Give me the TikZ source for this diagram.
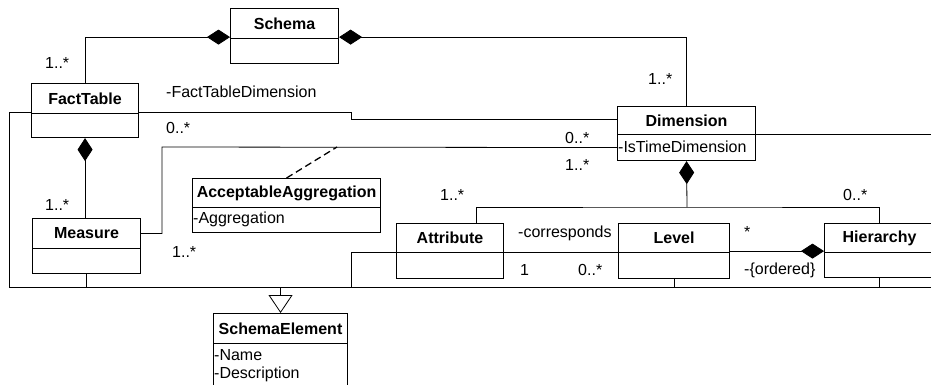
\documentclass[tikz,border=0pt]{standalone}
\usepackage{fontspec}
\setmainfont{Liberation Sans}
\usetikzlibrary{arrows.meta,calc}
\begin{document}
\begin{tikzpicture}[x=1pt,y=-1pt,
  every node/.style={font=\fontsize{16}{19}\selectfont},
  hdr/.style={draw, line width=1.1pt, inner sep=0pt, anchor=north west, font=\fontsize{16}{19}\selectfont\bfseries},
  bdy/.style={draw, line width=1.1pt, inner sep=0pt, anchor=north west},
  lbl/.style={inner sep=0pt, anchor=base west},
  conn/.style={line width=0.8pt, black},
  comp/.style={conn, -{Diamond[length=23pt,width=15pt]}},
  compstart/.style={conn, {Diamond[length=23pt,width=15pt]}-},
  gen/.style={conn, -{Triangle[open, fill=white, length=18pt, width=24pt]}}
]
\clip (0,0) rectangle (931,384);
\fill[white] (0,0) rectangle (931,384);

% ---- classes ----
\node[hdr, minimum width=108pt, minimum height=30pt] (schemaH) at (230,8) {Schema};
\node[bdy, minimum width=108pt, minimum height=25pt] (schemaB) at (230,38) {};

\node[hdr, minimum width=107pt, minimum height=30pt] (factH) at (31,83) {FactTable};
\node[bdy, minimum width=107pt, minimum height=24pt] (factB) at (31,113) {};

\node[hdr, minimum width=138pt, minimum height=28pt] (dimH) at (617,106) {Dimension};
\node[bdy, minimum width=138pt, minimum height=26pt] (dimB) at (617,134) {};
\node[lbl] (dimA) at ([xshift=1pt,yshift=-18pt]dimB.north west) {-IsTimeDimension};

\node[hdr, minimum width=108pt, minimum height=30pt] (measH) at (32,218) {Measure};
\node[bdy, minimum width=108pt, minimum height=25pt] (measB) at (32,248) {};

\node[hdr, minimum width=188pt, minimum height=29pt] (aggH) at (192,178) {AcceptableAggregation};
\node[bdy, minimum width=188pt, minimum height=25pt] (aggB) at (192,207) {};
\node[lbl] (aggA) at ([xshift=1pt,yshift=-16pt]aggB.north west) {-Aggregation};

\node[hdr, minimum width=107pt, minimum height=29pt] (attrH) at (396,223) {Attribute};
\node[bdy, minimum width=107pt, minimum height=26pt] (attrB) at (396,252) {};

\node[hdr, minimum width=111pt, minimum height=29pt] (levelH) at (618,223) {Level};
\node[bdy, minimum width=111pt, minimum height=26pt] (levelB) at (618,252) {};

\node[hdr, minimum width=110pt, minimum height=29pt] (hierH) at (824,223) {Hierarchy};
\node[bdy, minimum width=110pt, minimum height=25pt] (hierB) at (824,252) {};

\node[hdr, minimum width=134pt, minimum height=30pt] (seH) at (213,313) {SchemaElement};
\node[bdy, minimum width=134pt, minimum height=60pt] (seB) at (213,343) {};
\node[lbl] (seA1) at ([xshift=1pt,yshift=-17pt]seB.north west) {-Name};
\node[lbl] (seA2) at ([xshift=1pt,yshift=-35pt]seB.north west) {-Description};

% ---- helper coordinates ----
\coordinate (ftstep) at (351,119);
\coordinate (mdbend) at (162,147);
\coordinate (aggattach) at (337,147);
\coordinate (dimbus) at (687,207);
\coordinate (attrtop) at (476,223);
\coordinate (busL) at (9,287);
\coordinate (busR) at (945,287);
\coordinate (attrbus) at (351,287);

% ---- compositions ----
\draw[comp] (factH.north) |- ([yshift=2pt]schemaH.south west);
\draw[comp] (dimH.north) |- ([yshift=2pt]schemaH.south east);
\draw[comp] (measH.north -| factB.south) -- (factB.south);
\draw[compstart] (dimB.south) -- (dimbus);
\draw[conn] (attrtop) |- (dimbus) -| (hierH.north);
\draw[comp] ([yshift=2pt]levelH.south east) -- ([yshift=2pt]hierH.south west);

% ---- associations ----
\draw[conn] ([yshift=2pt]factH.south east) -| (ftstep) -- (dimH.west |- ftstep);
\draw[conn] (measH.east) -| (mdbend) -- (dimB.west);
\draw[conn, line width=1.3pt, dash pattern=on 7pt off 4pt] (aggH.north) -- (aggattach);
\draw[conn] ([yshift=1pt]attrH.south east) -- ([yshift=1pt]levelH.south west);

% ---- generalization bus ----
\draw[conn] ([yshift=2pt]factH.south west) -| (busL) -- (busR) |- ([yshift=1pt]dimH.south east);
\draw[conn] (measB.south) -- (measB.south |- busL);
\draw[conn] ([yshift=1pt]attrH.south west) -| (attrbus);
\draw[conn] (levelB.south) -- (levelB.south |- busL);
\draw[conn] (hierB.south) -- (hierB.south |- busL);
\draw[gen] (seH.north |- busL) -- (seH.north);

% ---- labels ----
\node[lbl] (m1) at (45,68) {1..*};
\node[lbl] (m2) at (166,97) {-FactTableDimension};
\node[lbl] (m3) at (166,133) {0..*};
\node[lbl] (m4) at (648,84) {1..*};
\node[lbl] (m5) at (565,143) {0..*};
\node[lbl] (m6) at (565,170) {1..*};
\node[lbl] (m7) at (45,210) {1..*};
\node[lbl] (m8) at (172,257) {1..*};
\node[lbl] (m9) at (440,200) {1..*};
\node[lbl] (m10) at (843,200) {0..*};
\node[lbl] (m11) at (518,237) {-corresponds};
\node[lbl] (m12) at (520,275) {1};
\node[lbl] (m13) at (578,275) {0..*};
\node[lbl] (m14) at (744,237) {*};
\node[lbl] (m15) at (744,274) {-\{ordered\}};
\end{tikzpicture}
\end{document}
